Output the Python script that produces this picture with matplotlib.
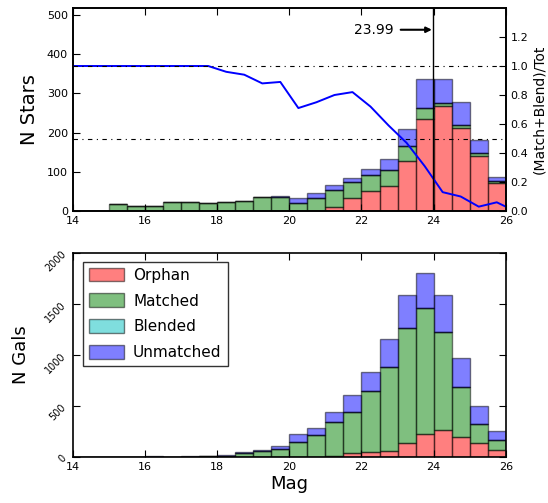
import numpy as np
import matplotlib
matplotlib.use("Agg")
import matplotlib.pyplot as plt

# ---- data ----
bin_edges = [14.0 + 0.5 * i for i in range(25)]

star_orphan = [0, 0, 0, 0, 0, 0, 0, 0, 0, 0, 0, 0, 0, 0, 11, 32, 51, 64, 128, 234, 268, 211, 141, 71]
star_matched = [0, 0, 18, 14, 14, 24, 24, 21, 24, 26, 35, 35, 20, 32, 43, 43, 41, 41, 38, 28, 7, 8, 8, 6]
star_blended = [0] * 24
star_unmatched = [0, 0, 0, 0, 0, 0, 0, 0, 0, 0, 2, 4, 12, 15, 12, 8, 15, 27, 43, 76, 63, 58, 32, 11]

gal_orphan = [0, 0, 0, 0, 0, 0, 0, 0, 0, 0, 0, 0, 0, 2, 5, 40, 50, 60, 138, 230, 262, 197, 138, 73]
gal_matched = [0, 0, 0, 0, 4, 2, 4, 6, 12, 35, 55, 76, 148, 211, 339, 403, 596, 825, 1124, 1235, 961, 485, 190, 98]
gal_blended = [0] * 24
gal_unmatched = [0, 0, 0, 0, 1, 1, 1, 2, 3, 10, 18, 29, 82, 72, 99, 164, 190, 272, 321, 338, 360, 292, 170, 85]

comp_mag = [14.0, 14.25, 14.75, 15.25, 15.75, 16.25, 16.75, 17.25, 17.75, 18.25, 18.75,
            19.25, 19.75, 20.25, 20.75, 21.25, 21.75, 22.25, 22.75, 23.25, 23.75,
            24.25, 24.75, 25.25, 25.75, 26.0]
comp_frac = [1.0, 1.0, 1.0, 1.0, 1.0, 1.0, 1.0, 1.0, 1.0, 0.96, 0.94,
             0.88, 0.89, 0.71, 0.75, 0.80, 0.82, 0.72, 0.59, 0.47, 0.31,
             0.13, 0.10, 0.03, 0.06, 0.03]
mag_limit = 23.99
ref_levels = [1.0, 0.5]

labels = ["Orphan", "Matched", "Blended", "Unmatched"]
colors = ["r", "g", "c", "b"]

plt.rcParams["font.family"] = ["DejaVu Sans"]

fig = plt.figure(figsize=(5.48, 5.03), dpi=100)
ax1 = fig.add_axes([0.133, 0.5805, 0.790, 0.4036])
ax2 = fig.add_axes([0.133, 0.0915, 0.790, 0.4056])

left = np.array(bin_edges[:-1])
width = 0.5


def stacked(ax, series):
    bottom = np.zeros(len(left))
    for vals, lab, col in zip(series, labels, colors):
        vals = np.array(vals, dtype=float)
        h = ax.bar(left, vals, width=width, bottom=bottom, align="edge",
                   color=col, alpha=0.5, edgecolor="k", linewidth=1.0, label=lab)
        for p in h:
            p.set_edgecolor((0, 0, 0, 1))
        bottom = bottom + vals


stacked(ax1, [star_orphan, star_matched, star_blended, star_unmatched])
ax1.set_xlim(14, 26)
ax1.set_ylim(0, 518)
ax1.set_yticks([0, 100, 200, 300, 400, 500])
ax1.set_xticks([14, 16, 18, 20, 22, 24, 26])
ax1.set_ylabel("N Stars", fontsize=14, labelpad=6)
ax1.tick_params(direction="in", labelsize=8, top=True, right=False, length=5)

ax1r = ax1.twinx()
ax1r.plot(comp_mag, comp_frac, color="b", linewidth=1.4)
for lv in ref_levels:
    ax1r.axhline(lv, color="k", linestyle=(0, (4, 4, 1, 4)), linewidth=0.8)
ax1r.axvline(mag_limit, color="k", linewidth=1.0)
ax1r.annotate(f"{mag_limit:.2f}", xy=(mag_limit, 1.25), xytext=(-57, 0),
              textcoords="offset points", ha="left", va="center", fontsize=10,
              arrowprops=dict(arrowstyle="-|>", color="k", lw=1.5, shrinkA=3, shrinkB=1,
                              mutation_scale=8))
ax1r.set_ylim(0, 1.4)
ax1r.set_yticks([0.0, 0.2, 0.4, 0.6, 0.8, 1.0, 1.2])
ax1r.set_ylabel("(Match+Blend)/Tot", fontsize=10, labelpad=3)
ax1r.tick_params(direction="in", labelsize=8, length=5)
ax1r.set_xlim(14, 26)

stacked(ax2, [gal_orphan, gal_matched, gal_blended, gal_unmatched])
ax2.set_xlim(14, 26)
ax2.set_ylim(0, 2000)
ax2.set_yticks([0, 500, 1000, 1500, 2000])
ax2.set_xticks([14, 16, 18, 20, 22, 24, 26])
ax2.tick_params(direction="in", labelsize=8, top=True, right=True, length=5)
for t in ax2.get_yticklabels():
    t.set_rotation(45)
    t.set_fontsize(7)
ax2.set_ylabel("N Gals", fontsize=13, labelpad=10)
ax2.set_xlabel("Mag", fontsize=13, labelpad=2)
leg = ax2.legend(loc="upper left", fontsize=11, frameon=True, fancybox=False,
                 handlelength=2.3, handleheight=1.0, borderpad=0.4, labelspacing=0.7,
                 handletextpad=0.6, bbox_to_anchor=(0.005, 0.995))
leg.get_frame().set_edgecolor("k")
leg.get_frame().set_linewidth(1.0)

for ax in (ax1, ax2, ax1r):
    for s in ax.spines.values():
        s.set_linewidth(1.2)

fig.savefig("out.png", dpi=100)
